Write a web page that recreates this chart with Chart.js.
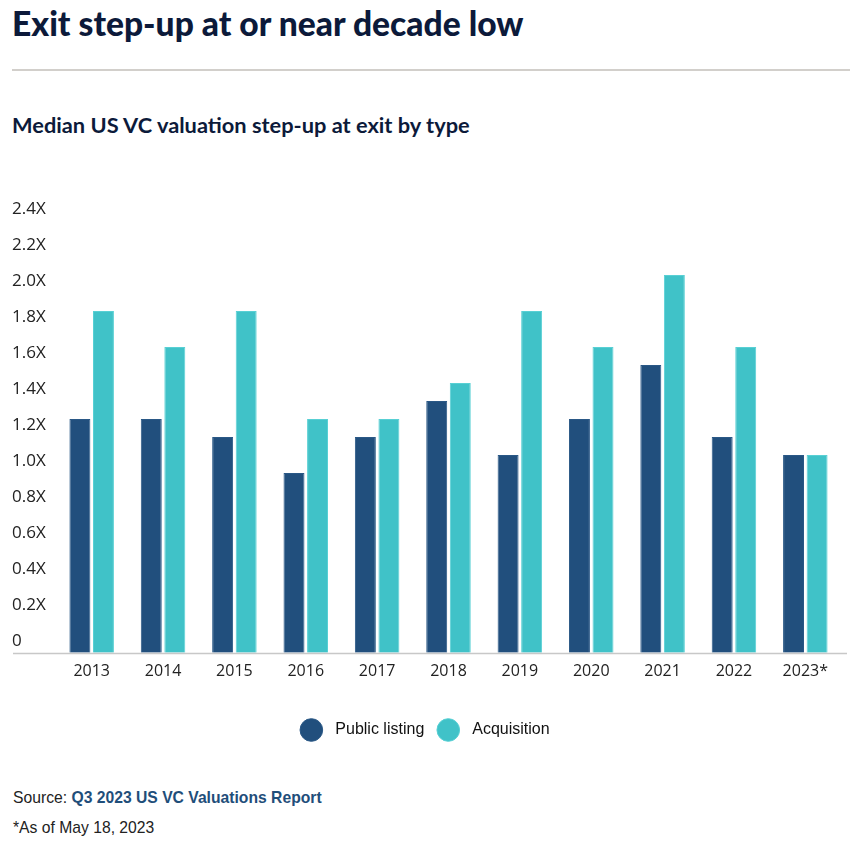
<!DOCTYPE html>
<html>
<head>
<meta charset="utf-8">
<script src="https://cdn.jsdelivr.net/npm/chart.js@4.4.0/dist/chart.umd.min.js"></script>
<style>
  body { margin: 0; background: #fff; width: 850px; height: 841px; position: relative; overflow: hidden; }
  .title { position: absolute; left: 12px; top: 3px; font-family: Lato, sans-serif; font-weight: 900; font-size: 33.6px; color: #0c1a3a; }
  .rule { position: absolute; left: 12px; top: 69px; width: 838px; height: 2px; background: #d2cfcb; }
  .subtitle { position: absolute; left: 12px; top: 111px; font-family: Lato, sans-serif; font-weight: 700; font-size: 21.8px; color: #0c1a3a; }
  .chart-box { position: absolute; left: 0; top: 190px; width: 850px; height: 558px; }
  .note { position: absolute; left: 13px; font-family: "Liberation Sans", Arial, sans-serif; font-size: 15.7px; color: #222; }
  .note b { color: #1f4e7a; }
</style>
</head>
<body>
<div class="title">Exit step-up at or near decade low</div>
<div class="rule"></div>
<div class="subtitle">Median US VC valuation step-up at exit by type</div>
<div class="chart-box"><canvas id="chart"></canvas></div>
<div class="note" style="top:789px">Source: <b>Q3 2023 US VC Valuations Report</b></div>
<div class="note" style="top:819px">*As of May 18, 2023</div>

<script>
// Dữ liệu biểu đồ
const years = ['2013', '2014', '2015', '2016', '2017', '2018', '2019', '2020', '2021', '2022', '2023*'];
const publicListing = [1.3, 1.3, 1.2, 1.0, 1.2, 1.4, 1.1, 1.3, 1.6, 1.2, 1.1];
const acquisition = [1.9, 1.7, 1.9, 1.3, 1.3, 1.5, 1.9, 1.7, 2.1, 1.7, 1.1];
const yTicks = [0, 0.2, 0.4, 0.6, 0.8, 1.0, 1.2, 1.4, 1.6, 1.8, 2.0, 2.2, 2.4];

// Đường đáy kéo dài hết chiều ngang
const baselinePlugin = {
  id: 'baseline',
  afterDatasetsDraw(chart) {
    const { ctx, scales: { y } } = chart;
    const yPos = Math.round(y.getPixelForValue(0)) + 0.5;
    ctx.save();
    ctx.strokeStyle = '#c8c8c8';
    ctx.lineWidth = 1.5;
    ctx.beginPath();
    ctx.moveTo(13, yPos);
    ctx.lineTo(847, yPos);
    ctx.stroke();
    ctx.restore();
  }
};

new Chart(document.getElementById('chart'), {
  type: 'bar',
  data: {
    labels: years,
    datasets: [
      { label: 'Public listing', data: publicListing, backgroundColor: '#214f7d', borderColor: '#2a5886', borderWidth: 1 },
      { label: 'Acquisition', data: acquisition, backgroundColor: '#40c2c8', borderColor: '#58d0d4', borderWidth: 1 }
    ]
  },
  options: {
    responsive: true,
    maintainAspectRatio: false,
    animation: false,
    datasets: { bar: { categoryPercentage: 0.66, barPercentage: 0.89 } },
    layout: { padding: { left: 12, right: 9, top: 31, bottom: 0 } },
    scales: {
      x: {
        grid: { display: false },
        border: { display: false },
        ticks: { color: '#222', font: { family: 'Open Sans', size: 16 }, padding: 1 }
      },
      y: {
        min: 0,
        max: 2.4,
        afterFit(scale) { scale.width = 44; },
        afterBuildTicks(scale) { scale.ticks = yTicks.map(v => ({ value: v })); },
        grid: { display: false },
        border: { display: false },
        ticks: {
          color: '#222',
          font: { family: 'Open Sans', size: 17 },
          crossAlign: 'far',
          labelOffset: -12,
          padding: 0,
          callback: v => v === 0 ? '0' : v.toFixed(1) + 'X'
        }
      }
    },
    plugins: {
      legend: {
        position: 'bottom',
        title: { display: true, text: ' ', font: { size: 10 }, padding: { top: 0, bottom: 12 } },
        labels: {
          usePointStyle: true,
          pointStyle: 'circle',
          color: '#111',
          font: { family: 'Liberation Sans', size: 16 },
          padding: 16,
          generateLabels(chart) {
            // thêm khoảng trống giữa chấm tròn và chữ
            return Chart.defaults.plugins.legend.labels.generateLabels(chart)
              .map(item => Object.assign(item, { text: '\u2002' + item.text }));
          }
        }
      },
      tooltip: { enabled: false }
    }
  },
  plugins: [baselinePlugin]
});
</script>
</body>
</html>
